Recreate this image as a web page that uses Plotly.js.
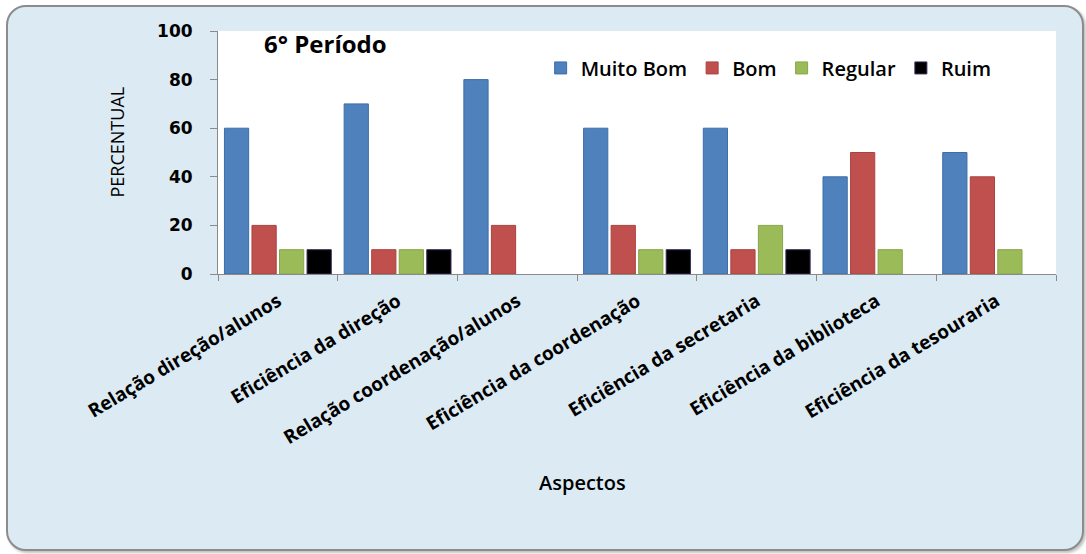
<!DOCTYPE html>
<html>
<head>
<meta charset="utf-8">
<script src="https://cdn.plot.ly/plotly-3.0.1.min.js"></script>
<style>
  html, body { margin: 0; padding: 0; background: #ffffff; width: 1086px; height: 554px; overflow: hidden; }
  #frame { position: absolute; left: 6px; top: 5px; width: 1074px; height: 542px;
           background: #dcebf3; border: 2px solid #8c8c8c; border-radius: 20px;
           box-shadow: 2px 2px 3px rgba(0,0,0,0.25); }
  #chart { position: absolute; left: 0; top: 0; width: 1086px; height: 554px; }
</style>
</head>
<body>
<div id="frame"></div>
<div id="chart"></div>
<script>
const categories = [
  "Relação direção/alunos",
  "Eficiência da direção",
  "Relação coordenação/alunos",
  "Eficiência da coordenação",
  "Eficiência da secretaria",
  "Eficiência da biblioteca",
  "Eficiência da tesouraria"
];
const muitoBom = [60, 70, 80, 60, 60, 40, 50];
const bom      = [20, 10, 20, 20, 10, 50, 40];
const regular  = [10, 10, 0, 10, 20, 10, 10];
const ruim     = [10, 10, 0, 10, 10, 0, 0];
const yTicks = [0, 20, 40, 60, 80, 100];

const seriesDefs = [
  {name: "Muito Bom", y: muitoBom, color: "#4f81bd", line: "#3d6ea8"},
  {name: "Bom",       y: bom,      color: "#c0504d", line: "#a84340"},
  {name: "Regular",   y: regular,  color: "#9bbb59", line: "#87a64a"},
  {name: "Ruim",      y: ruim,     color: "#000000", line: "#3a2a5a"}
];

const traces = seriesDefs.map(s => ({
  type: "bar",
  name: s.name,
  x: categories,
  y: s.y.map(v => v === 0 ? null : v),
  marker: {color: s.color, line: {color: s.line, width: 1}},
  hoverinfo: "x+y+name"
}));

const labelFont = {family: "Open Sans, sans-serif", size: 19, color: "#000", weight: 700};

const layout = {
  width: 1086, height: 554,
  margin: {l: 218, r: 30, t: 31, b: 280},
  paper_bgcolor: "rgba(0,0,0,0)",
  plot_bgcolor: "#ffffff",
  barmode: "group",
  bargap: 0.08,
  bargroupgap: 0.12,
  showlegend: true,
  legend: {
    orientation: "h", x: 0.385, y: 0.848, xanchor: "left", yanchor: "middle",
    bgcolor: "rgba(0,0,0,0)",
    font: {family: "Open Sans, sans-serif", size: 20, color: "#000", weight: 600},
    itemwidth: 30, traceorder: "normal"
  },
  xaxis: {
    type: "category",
    tickangle: -31,
    tickfont: labelFont,
    showline: true, linecolor: "#8a8a8a", linewidth: 1,
    ticks: "outside", tickson: "boundaries", ticklen: 6, tickcolor: "#8a8a8a",
    ticklabelstandoff: 8,
    showgrid: false, zeroline: false, fixedrange: true
  },
  yaxis: {
    range: [0, 100],
    tickvals: yTicks,
    ticktext: yTicks.map(String),
    tickfont: {family: "DejaVu Sans, sans-serif", size: 17, color: "#000", weight: 700},
    showline: true, linecolor: "#8a8a8a", linewidth: 1,
    ticks: "outside", ticklen: 7, tickcolor: "#8a8a8a",
    ticklabelstandoff: 14,
    showgrid: false, zeroline: false, fixedrange: true
  },
  annotations: [
    {text: "6° Período", xref: "paper", yref: "paper", x: 0.052, y: 0.95,
     xanchor: "left", yanchor: "middle", showarrow: false,
     font: {family: "Open Sans, sans-serif", size: 24, color: "#000", weight: 700}},
    {text: "PERCENTUAL", xref: "paper", yref: "paper", x: -0.12, y: 0.543,
     xanchor: "center", yanchor: "middle", textangle: -90, showarrow: false,
     font: {family: "Open Sans, sans-serif", size: 18, color: "#000"}},
    {text: "Aspectos", xref: "paper", yref: "paper", x: 0.435, y: -0.86,
     xanchor: "center", yanchor: "middle", showarrow: false,
     font: {family: "Open Sans, sans-serif", size: 20, color: "#000", weight: 600}}
  ]
};

Plotly.newPlot("chart", traces, layout, {displayModeBar: false, staticPlot: true});
</script>
</body>
</html>
